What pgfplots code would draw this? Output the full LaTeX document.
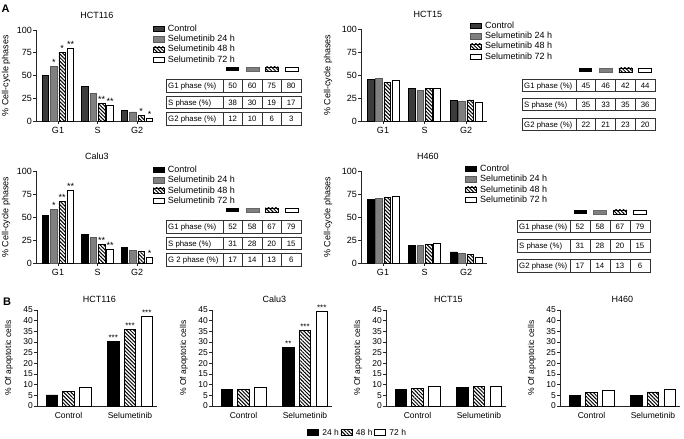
\documentclass[border=0pt]{standalone}
\usepackage{fontspec}
\setmainfont{Liberation Sans}
\usepackage{pgfplots}
\pgfplotsset{compat=1.18}
\usetikzlibrary{patterns.meta}
\newcommand\fs[1]{\fontsize{#1bp}{#1bp}\selectfont}
\definecolor{dgray}{HTML}{3C3C3C}
\definecolor{mgray}{HTML}{808080}
\tikzset{hatchst/.style={draw=black, pattern={Lines[angle=-45,distance=2.6bp,line width=1bp]}, pattern color=black}}
\newcommand\lgt[1]{\hspace*{2.2bp}#1}
\pgfplotsset{
 /pgf/number format/assume math mode=true,
 boxleg/.style={legend image code/.code={\draw[##1,line width=0.6bp] (0bp,-2.6bp) rectangle (10.5bp,2.6bp);}},
 boxlegB/.style={legend image code/.code={\draw[##1,line width=0.6bp] (0bp,-3bp) rectangle (11bp,3bp);}},
 common/.style={scale only axis, anchor=south west, axis lines*=left,
   axis line style={line width=0.6bp, black!85},
   tick style={line width=0.6bp, black!85}, tick align=outside, major tick length=3bp,
   clip=false,
   every axis title/.style={anchor=base, inner sep=0pt, font=\fs{9}},
   legend style={draw=none, fill=none, inner sep=0pt, outer sep=0pt, anchor=north west, row sep=0pt},
   legend cell align=left},
 Abase/.style={common, ymin=0, ymax=100, ytick={0,25,50,75,100}, xtick={0,1,2}, xticklabels={G1,S,G2},
   tick label style={font=\fs{9}}, label style={font=\fs{9}},
   yticklabel style={inner sep=1bp},
   ylabel={\% Cell-cycle phases},
   legend style={font=\fs{9}, nodes={inner xsep=1.6bp, inner ysep=0.8bp, text height=6.8bp, text depth=1.8bp}}},
 Bbase/.style={common, width=120bp, height=96bp, ymin=0, ymax=45, ytick={0,5,...,45},
   xmin=-0.512, xmax=1.439, xtick={0,1}, xticklabels={Control,Selumetinib}, xtick style={draw=none},
   tick label style={font=\fs{8.5}}, label style={font=\fs{8.5}}, yticklabel style={inner sep=1bp},
   ylabel={\% Of apoptotic cells},
   ylabel style={at={(axis description cs:-0.233,0.5)}, anchor=center},
   title style={at={(0.52,1)}, yshift=7.5bp}},
 barA/.style={ybar, bar width=6.5bp, line width=0.6bp, boxleg},
 barB/.style={ybar, bar width=11.5bp, line width=0.6bp, boxlegB},
 stars/.style={nodes near coords, point meta=explicit symbolic,
   every node near coord/.append style={font=\fs{9}, inner sep=0.5bp, anchor=south, black, xshift=#1}},
 starsB/.style={nodes near coords, point meta=explicit symbolic,
   every node near coord/.append style={font=\fs{8}, inner sep=0.5bp, anchor=south, black, xshift=#1}},
}
\newcommand\trow[9]{%
 \draw[line width=0.6bp, black!80] (#1,{#2-6.2}) rectangle ({#1+#3+4*#4},{#2+6.2});
 \foreach \k in {0,1,2,3}{\draw[line width=0.6bp, black!80] ({#1+#3+\k*#4},{#2-6.2}) -- ({#1+#3+\k*#4},{#2+6.2});}
 \node[anchor=base west, inner sep=0pt, font=\fs{7.8}] at ({#1+2},{#2+2.8}) {#5};
 \node[anchor=base, inner sep=0pt, font=\fs{7.8}] at ({#1+#3+0.5*#4},{#2+2.8}) {#6};
 \node[anchor=base, inner sep=0pt, font=\fs{7.8}] at ({#1+#3+1.5*#4},{#2+2.8}) {#7};
 \node[anchor=base, inner sep=0pt, font=\fs{7.8}] at ({#1+#3+2.5*#4},{#2+2.8}) {#8};
 \node[anchor=base, inner sep=0pt, font=\fs{7.8}] at ({#1+#3+3.5*#4},{#2+2.8}) {#9};
}
\newcommand\swatch[3]{%
 \fill[black] ({#1+0.5*#2-6.5},{#3-2.2}) rectangle ({#1+0.5*#2+6.5},{#3+2.2});
 \filldraw[fill=mgray, draw=mgray!80!black, line width=0.5bp] ({#1+1.5*#2-6.5},{#3-2.2}) rectangle ({#1+1.5*#2+6.5},{#3+2.2});
 \draw[hatchst, line width=0.5bp] ({#1+2.5*#2-6.5},{#3-2.2}) rectangle ({#1+2.5*#2+6.5},{#3+2.2});
 \draw[black, fill=white, line width=0.5bp] ({#1+3.5*#2-6.5},{#3-2.2}) rectangle ({#1+3.5*#2+6.5},{#3+2.2});
}
\begin{document}
\begin{tikzpicture}
\useasboundingbox (0,0) rectangle (684bp,439bp);
%%%%% A: HCT116
\begin{axis}[Abase, at={(36bp,318bp)}, width=117bp, height=91bp, xmin=-0.557, xmax=2.405,
  title={HCT116}, title style={at={(0.52,1)}, yshift=11bp},
  ylabel style={at={(axis description cs:-0.256,0.5)}, anchor=center},
  legend style={at={(1.0,1.066)}}]
\addplot[barA, draw=black, fill=dgray, bar shift=-12.5bp] coordinates {(0,50) (1,38) (2,12)};
\addplot[barA, draw=black!65, fill=mgray, bar shift=-4.2bp, stars=-4.2bp] coordinates {(0,60) [*] (1,30) [] (2,10) []};
\addplot[barA, hatchst, bar shift=4.2bp, stars=4.2bp] coordinates {(0,75) [*] (1,19) [**] (2,6) [*]};
\addplot[barA, draw=black, fill=white, bar shift=12.5bp, stars=12.5bp] coordinates {(0,80) [**] (1,17) [**] (2,3) [*]};
\legend{\lgt{Control}, \lgt{Selumetinib 24 h}, \lgt{Selumetinib 48 h}, \lgt{Selumetinib 72 h}}
\end{axis}
%%%%% A: HCT15
\begin{axis}[Abase, at={(361bp,318bp)}, width=126bp, height=92bp, xmin=-0.53, xmax=2.506,
  title={HCT15}, title style={at={(0.53,1)}, yshift=11bp},
  ylabel style={at={(axis description cs:-0.262,0.5)}, anchor=center},
  legend style={at={(0.867,1.087)}}]
\addplot[barA, bar width=6.7bp, draw=black, fill=dgray, bar shift=-12.5bp] coordinates {(0,45) (1,35) (2,22)};
\addplot[barA, bar width=6.7bp, draw=black!65, fill=mgray, bar shift=-4.2bp] coordinates {(0,46) (1,33) (2,21)};
\addplot[barA, bar width=6.7bp, hatchst, bar shift=4.2bp] coordinates {(0,42) (1,35) (2,23)};
\addplot[barA, bar width=6.7bp, draw=black, fill=white, bar shift=12.5bp] coordinates {(0,44) (1,36) (2,20)};
\legend{\lgt{Control}, \lgt{Selumetinib 24 h}, \lgt{Selumetinib 48 h}, \lgt{Selumetinib 72 h}}
\end{axis}
%%%%% A: Calu3
\begin{axis}[Abase, at={(36bp,176bp)}, width=117bp, height=92bp, xmin=-0.557, xmax=2.405,
  title={Calu3}, title style={at={(0.52,1)}, yshift=11bp},
  ylabel style={at={(axis description cs:-0.256,0.5)}, anchor=center},
  legend style={at={(1.0,1.065)}}]
\addplot[barA, draw=black, fill=black, bar shift=-12.5bp] coordinates {(0,52) (1,31) (2,17)};
\addplot[barA, draw=black!65, fill=mgray, bar shift=-4.2bp, stars=-4.2bp] coordinates {(0,58) [*] (1,28) [] (2,14) []};
\addplot[barA, hatchst, bar shift=4.2bp, stars=4.2bp] coordinates {(0,67) [**] (1,20) [**] (2,13) []};
\addplot[barA, draw=black, fill=white, bar shift=12.5bp, stars=12.5bp] coordinates {(0,79) [**] (1,15) [**] (2,6) [*]};
\legend{\lgt{Control}, \lgt{Selumetinib 24 h}, \lgt{Selumetinib 48 h}, \lgt{Selumetinib 72 h}}
\end{axis}
%%%%% A: H460
\begin{axis}[Abase, at={(361bp,176bp)}, width=126bp, height=92bp, xmin=-0.53, xmax=2.506,
  title={H460}, title style={at={(0.53,1)}, yshift=11bp},
  ylabel style={at={(axis description cs:-0.262,0.5)}, anchor=center},
  legend style={at={(0.827,1.076)}}]
\addplot[barA, bar width=6.7bp, draw=black, fill=black, bar shift=-12.5bp] coordinates {(0,69) (1,19) (2,12)};
\addplot[barA, bar width=6.7bp, draw=black!65, fill=mgray, bar shift=-4.2bp] coordinates {(0,70) (1,19) (2,10)};
\addplot[barA, bar width=6.7bp, hatchst, bar shift=4.2bp] coordinates {(0,71) (1,20) (2,9)};
\addplot[barA, bar width=6.7bp, draw=black, fill=white, bar shift=12.5bp] coordinates {(0,73) (1,21) (2,6)};
\legend{\lgt{Control}, \lgt{Selumetinib 24 h}, \lgt{Selumetinib 48 h}, \lgt{Selumetinib 72 h}}
\end{axis}
%%%%% B: HCT116
\begin{axis}[Bbase, at={(37bp,33bp)}, title={HCT116},
  legend columns=3, legend style={at={(2.25,-0.23)}, font=\fs{8.5}, nodes={inner xsep=1.6bp, inner ysep=0.8bp, text height=6.2bp, text depth=1.5bp}}]
\addplot[barB, draw=black, fill=black, bar shift=-16.7bp, starsB=-16.7bp] coordinates {(0,5.2) [] (1,30.2) [***]};
\addplot[barB, hatchst, bar shift=0bp, starsB=0bp] coordinates {(0,6.7) [] (1,36) [***]};
\addplot[barB, draw=black, fill=white, bar shift=16.7bp, starsB=16.7bp] coordinates {(0,8.6) [] (1,42.2) [***]};
\legend{\lgt{24 h}\hspace{4bp}, \lgt{48 h}\hspace{4bp}, \lgt{72 h}}
\end{axis}
%%%%% B: Calu3
\begin{axis}[Bbase, at={(212bp,33bp)}, title={Calu3}]
\addplot[barB, draw=black, fill=black, bar shift=-16.7bp, starsB=-16.7bp] coordinates {(0,7.7) [] (1,27.3) [**]};
\addplot[barB, hatchst, bar shift=0bp, starsB=0bp] coordinates {(0,7.9) [] (1,35.5) [***]};
\addplot[barB, draw=black, fill=white, bar shift=16.7bp, starsB=16.7bp] coordinates {(0,9.0) [] (1,44.2) [***]};
\end{axis}
%%%%% B: HCT15
\begin{axis}[Bbase, at={(386bp,33bp)}, title={HCT15}]
\addplot[barB, draw=black, fill=black, bar shift=-16.7bp] coordinates {(0,7.7) (1,8.6)};
\addplot[barB, hatchst, bar shift=0bp] coordinates {(0,8.2) (1,9.2)};
\addplot[barB, draw=black, fill=white, bar shift=16.7bp] coordinates {(0,9.1) (1,9.4)};
\end{axis}
%%%%% B: H460
\begin{axis}[Bbase, at={(560bp,33bp)}, title={H460}]
\addplot[barB, draw=black, fill=black, bar shift=-16.7bp] coordinates {(0,4.9) (1,4.9)};
\addplot[barB, hatchst, bar shift=0bp] coordinates {(0,6.2) (1,6.6)};
\addplot[barB, draw=black, fill=white, bar shift=16.7bp] coordinates {(0,7.2) (1,7.7)};
\end{axis}
%%%%% tables and panel letters (page coordinates, y downward)
\begin{scope}[x=1bp, y=-1bp, shift={(0,439bp)}]
 \node[font=\bfseries\fs{11}, inner sep=0pt] at (5.5,8.5) {A};
 \node[font=\bfseries\fs{11}, inner sep=0pt] at (7,302) {B};
 % HCT116
 \swatch{223}{19.5}{69}
 \trow{166}{86}{57}{19.5}{G1 phase (\%)}{50}{60}{75}{80}
 \trow{166}{102.5}{57}{19.5}{S phase (\%)}{38}{30}{19}{17}
 \trow{166}{119}{57}{19.5}{G2 phase (\%)}{12}{10}{6}{3}
 % Calu3
 \swatch{223}{19.5}{210}
 \trow{166}{227}{57}{19.5}{G1 phase (\%)}{52}{58}{67}{79}
 \trow{166}{243.5}{57}{19.5}{S phase (\%)}{31}{28}{20}{15}
 \trow{166}{260}{57}{19.5}{G 2 phase (\%)}{17}{14}{13}{6}
 % HCT15
 \swatch{576}{19.75}{70}
 \trow{522}{85.5}{54}{19.75}{G1 phase (\%)}{45}{46}{42}{44}
 \trow{522}{104.5}{54}{19.75}{S phase (\%)}{35}{33}{35}{36}
 \trow{522}{124.5}{54}{19.75}{G2 phase (\%)}{22}{21}{23}{20}
 % H460
 \swatch{570}{20}{212}
 \trow{517}{226.3}{53}{20}{G1 phase (\%)}{52}{58}{67}{79}
 \trow{517}{245.7}{53}{20}{S phase (\%)}{31}{28}{20}{15}
 \trow{517}{265.7}{53}{20}{G2 phase (\%)}{17}{14}{13}{6}
\end{scope}
\end{tikzpicture}
\end{document}
